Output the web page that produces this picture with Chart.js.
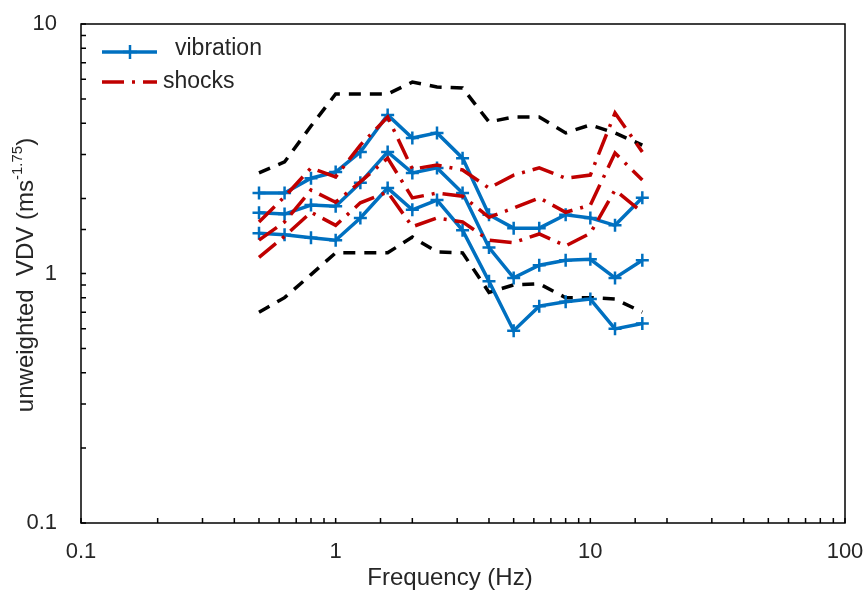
<!DOCTYPE html>
<html>
<head>
<meta charset="utf-8">
<script src="https://cdn.jsdelivr.net/npm/chart.js@4.4.1/dist/chart.umd.min.js"></script>
<style>
html, body { margin: 0; padding: 0; background: #fff; }
</style>
</head>
<body>
<canvas id="mycanvas" width="865" height="595"></canvas>
<script>
// third-octave band centre frequencies (Hz)
var freq = [0.5, 0.63, 0.8, 1, 1.25, 1.6, 2, 2.5, 3.15, 4, 5, 6.3, 8, 10, 12.5, 16];

// vibration (blue, +)
var vibHigh = [2.10, 2.10, 2.41, 2.55, 3.07, 4.32, 3.49, 3.66, 2.90, 1.72, 1.52, 1.52, 1.72, 1.67, 1.56, 2.01];
var vibMid  = [1.75, 1.73, 1.88, 1.86, 2.31, 3.07, 2.53, 2.65, 2.10, 1.27, 0.96, 1.08, 1.13, 1.14, 0.96, 1.13];
var vibLow  = [1.45, 1.43, 1.39, 1.36, 1.67, 2.20, 1.80, 1.97, 1.49, 0.93, 0.59, 0.74, 0.77, 0.79, 0.60, 0.63];

// shocks (red dash-dot)
var shkHigh = [1.61, 2.03, 2.65, 2.44, 3.27, 4.24, 2.62, 2.72, 2.60, 2.20, 2.48, 2.65, 2.41, 2.48, 4.40, 3.07];
var shkMid  = [1.36, 1.61, 2.16, 1.93, 2.33, 2.90, 2.01, 2.10, 2.04, 1.68, 1.83, 2.01, 1.76, 1.88, 3.04, 2.37];
var shkLow  = [1.16, 1.41, 1.76, 1.56, 1.92, 2.12, 1.54, 1.67, 1.61, 1.36, 1.33, 1.44, 1.29, 1.45, 2.16, 1.76];

// black dashed envelope
var envHigh = [2.53, 2.80, 3.90, 5.24, 5.24, 5.24, 5.85, 5.59, 5.54, 4.05, 4.24, 4.24, 3.66, 3.94, 3.66, 3.27];
var envLow  = [0.70, 0.80, 0.99, 1.21, 1.21, 1.21, 1.40, 1.22, 1.21, 0.84, 0.90, 0.91, 0.80, 0.80, 0.79, 0.70];

var xTickLabels = ['0.1', '1', '10', '100'];
var yTickLabels = ['0.1', '1', '10'];

var blue = 'rgb(0,112,192)';
var red = 'rgb(192,0,0)';
var fontFam = '"Liberation Sans", Arial, sans-serif';
var textCol = '#262626';
var shockDash = [22, 8, 3, 8];

function pts(vals) {
	return freq.map(function(f, i) { return { x: f, y: vals[i] }; });
}

function vibSet(vals) {
	return { data: pts(vals), borderColor: blue, backgroundColor: blue, borderWidth: 3.5,
		pointStyle: 'cross', pointRadius: 6.5, pointBorderWidth: 2.5, pointBorderColor: blue, tension: 0 };
}
function shkSet(vals) {
	return { data: pts(vals), borderColor: red, borderWidth: 3.5, borderDash: shockDash, pointRadius: 0, tension: 0 };
}
function envSet(vals) {
	return { data: pts(vals), borderColor: '#000', borderWidth: 3.5, borderDash: [12, 9], pointRadius: 0, tension: 0 };
}

function tickLabel(list) {
	return function(v) {
		var s = String(+Number(v).toPrecision(3));
		return list.indexOf(s) >= 0 ? s : '';
	};
}

var framePlugin = {
	id: 'frame',
	afterDraw: function(chart) {
		var ctx = chart.ctx, a = chart.chartArea;
		var xs = chart.scales.x, ys = chart.scales.y;
		ctx.save();
		ctx.strokeStyle = '#000';
		ctx.lineWidth = 1.5;
		ctx.setLineDash([]);
		ctx.strokeRect(a.left, a.top, a.right - a.left, a.bottom - a.top);

		// inner tick marks
		ctx.beginPath();
		xs.ticks.forEach(function(t) {
			var px = xs.getPixelForValue(t.value);
			ctx.moveTo(px, a.bottom); ctx.lineTo(px, a.bottom - 5);
		});
		ys.ticks.forEach(function(t) {
			var py = ys.getPixelForValue(t.value);
			ctx.moveTo(a.left, py); ctx.lineTo(a.left + 5, py);
		});
		ctx.stroke();

		// legend
		ctx.font = '23px ' + fontFam;
		ctx.fillStyle = textCol;
		ctx.textBaseline = 'middle';
		ctx.textAlign = 'left';

		ctx.strokeStyle = blue;
		ctx.lineWidth = 3.5;
		ctx.beginPath(); ctx.moveTo(102, 52); ctx.lineTo(157, 52); ctx.stroke();
		ctx.lineWidth = 2.5;
		ctx.beginPath(); ctx.moveTo(130, 45); ctx.lineTo(130, 59); ctx.moveTo(123, 52); ctx.lineTo(137, 52); ctx.stroke();
		ctx.fillText('vibration', 175, 49);

		ctx.strokeStyle = red;
		ctx.lineWidth = 3.5;
		ctx.setLineDash(shockDash);
		ctx.beginPath(); ctx.moveTo(102, 82); ctx.lineTo(157, 82); ctx.stroke();
		ctx.setLineDash([]);
		ctx.fillText('shocks', 163, 82);

		// x axis title
		ctx.font = '24px ' + fontFam;
		ctx.textAlign = 'center';
		ctx.fillText('Frequency (Hz)', 450, 578);
		ctx.textAlign = 'left';

		// y axis title with superscript
		var main = 'unweighted  VDV (ms', sup = '-1.75', tail = ')';
		ctx.translate(26, 275);
		ctx.rotate(-Math.PI / 2);
		ctx.font = '24px ' + fontFam;
		var w1 = ctx.measureText(main).width, w3 = ctx.measureText(tail).width;
		ctx.font = '15px ' + fontFam;
		var w2 = ctx.measureText(sup).width;
		var x0 = -(w1 + w2 + w3) / 2;
		ctx.font = '24px ' + fontFam;
		ctx.fillText(main, x0, 0);
		ctx.font = '15px ' + fontFam;
		ctx.fillText(sup, x0 + w1, -8);
		ctx.font = '24px ' + fontFam;
		ctx.fillText(tail, x0 + w1 + w2, 0);
		ctx.restore();
	}
};

var ctx = document.getElementById('mycanvas');

var chart = new Chart(ctx, {
	type: 'line',
	data: {
		datasets: [
			shkSet(shkHigh), shkSet(shkMid), shkSet(shkLow),
			vibSet(vibHigh), vibSet(vibMid), vibSet(vibLow),
			envSet(envHigh), envSet(envLow)
		]
	},
	options: {
		responsive: false,
		animation: false,
		layout: { padding: { top: 24, right: 20, left: 0, bottom: 0 } },
		plugins: { legend: { display: false }, tooltip: { enabled: false } },
		scales: {
			x: {
				type: 'logarithmic', min: 0.1, max: 100,
				grid: { display: false, drawTicks: false },
				border: { display: false },
				ticks: { autoSkip: false, maxRotation: 0, padding: 16, color: textCol,
					font: { family: fontFam, size: 22 }, callback: tickLabel(xTickLabels) },
				afterFit: function(s) { s.height = 72; s.paddingLeft = 0; s.paddingRight = 0; }
			},
			y: {
				type: 'logarithmic', min: 0.1, max: 10,
				grid: { display: false, drawTicks: false },
				border: { display: false },
				ticks: { autoSkip: false, padding: 24, color: textCol,
					font: { family: fontFam, size: 22 }, callback: tickLabel(yTickLabels) },
				afterFit: function(s) { s.width = 81; s.paddingTop = 0; s.paddingBottom = 0; }
			}
		}
	},
	plugins: [framePlugin]
});
</script>
</body>
</html>
